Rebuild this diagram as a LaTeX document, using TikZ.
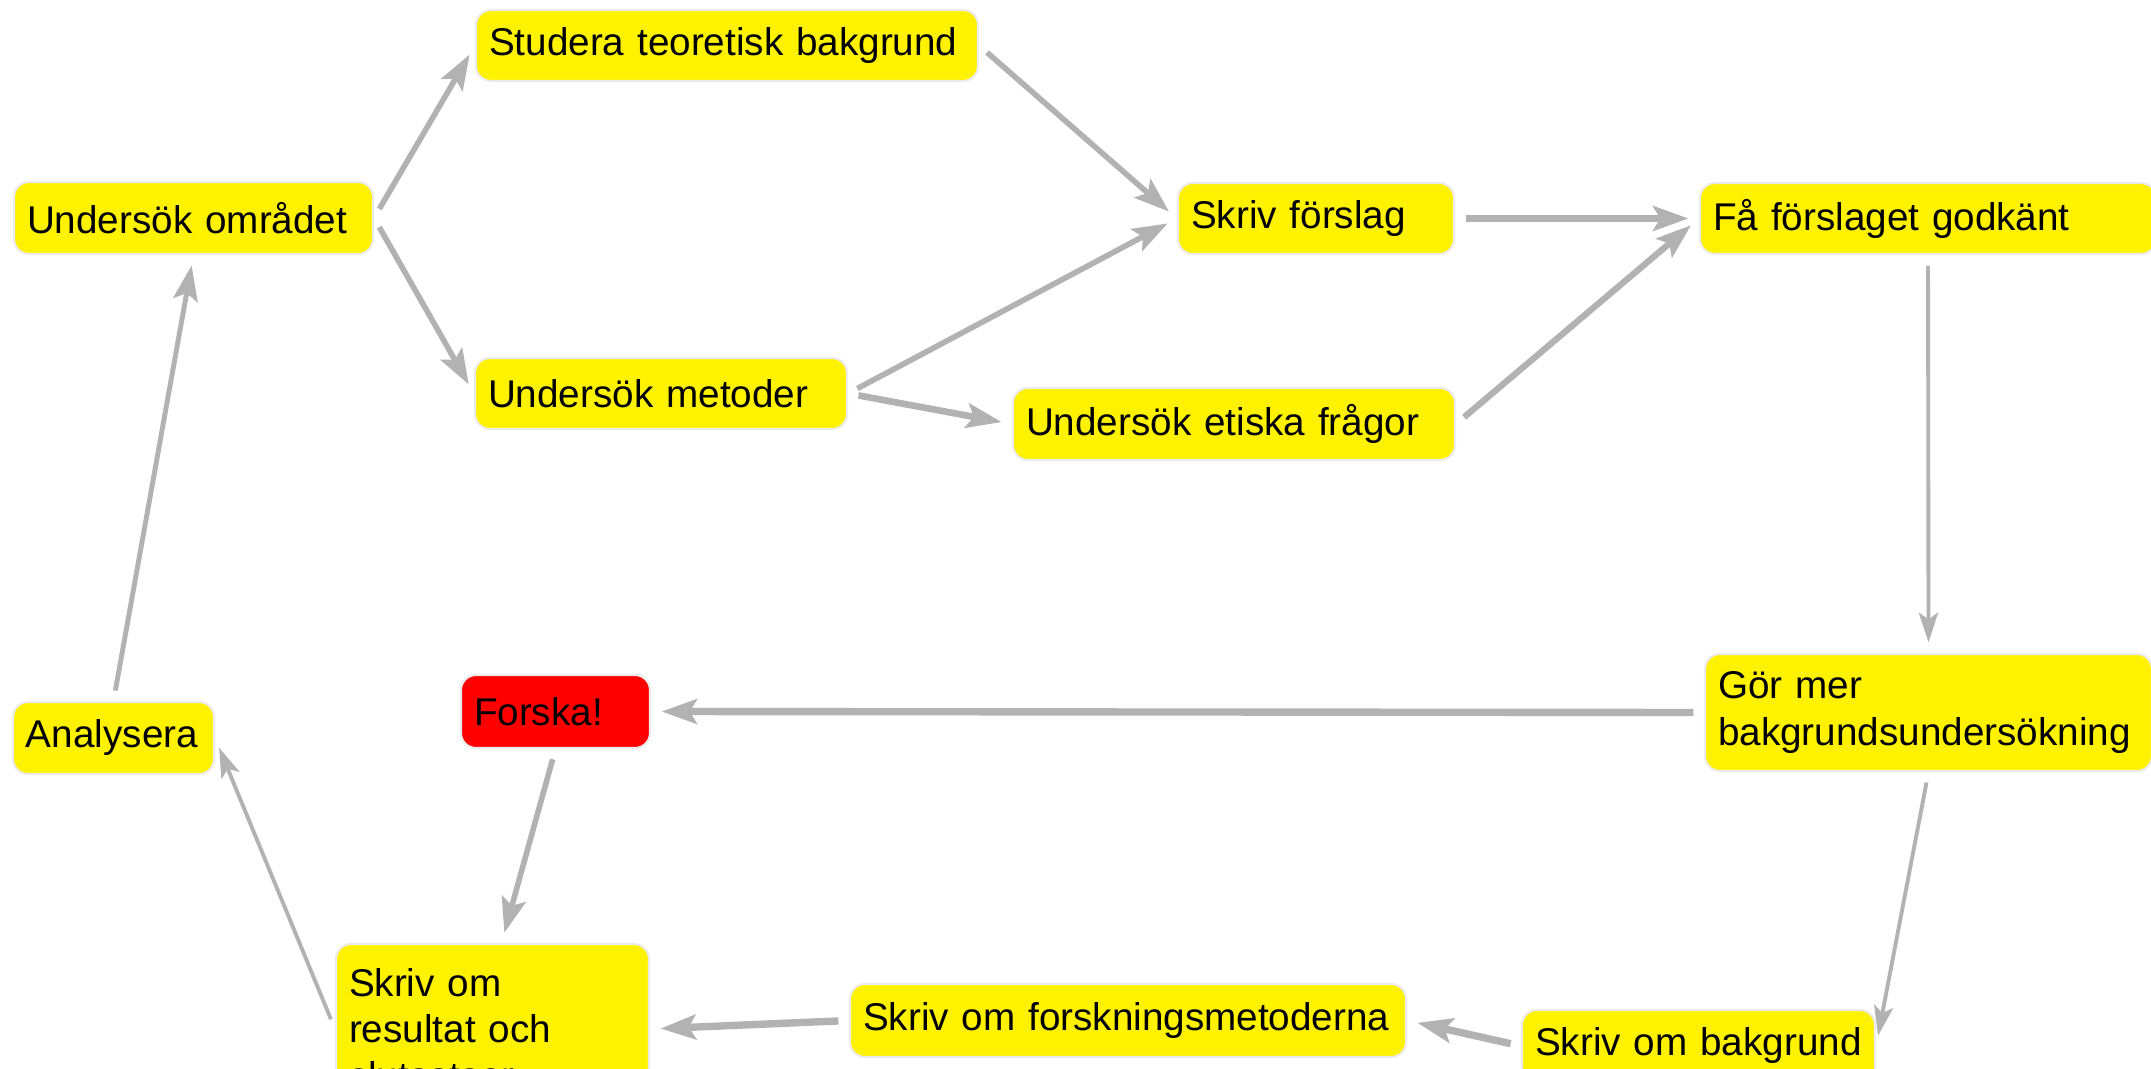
\documentclass[tikz,border=0pt]{standalone}
\usepackage{fontspec}
\setmainfont{Liberation Sans}
\usetikzlibrary{arrows.meta}
\definecolor{taskyellow}{RGB}{255,242,0}
\definecolor{taskred}{RGB}{255,0,0}
\definecolor{flowgray}{RGB}{178,178,178}
\tikzset{
  task/.style={fill=taskyellow, draw=black!8, line width=0.6pt, rounded corners=0.15cm,
    inner xsep=0.13cm, inner ysep=0pt, align=left},
  flow/.style={draw=flowgray, line width=1.6pt, -{Stealth[length=10pt,width=7pt,inset=2pt]},
    shorten >=3pt, shorten <=3pt},
  thinflow/.style={flow, line width=1.1pt, -{Stealth[length=8.5pt,width=5.5pt,inset=2pt]}},
}
\begin{document}
\begin{tikzpicture}
                    \useasboundingbox (0,0) rectangle (21.51,10.68);
                    \clip (0,0) rectangle (21.51,10.68);
                    {\fontsize{11}{13.3}\selectfont

                    % Drawing node Undersok omradet
                    \node [task, text width=3.33cm, minimum height=0.72cm] (uo) at (1.935,8.500) {Undersök området};%

                    % Drawing node Studera teoretisk bakgrund
                    \node [task, text width=4.76cm, minimum height=0.71cm] (stb) at (7.270,10.225) {Studera teoretisk bakgrund};%

                    % Drawing node Undersok metoder
                    \node [task, text width=3.46cm, minimum height=0.71cm] (um) at (6.610,6.745) {Undersök metoder};%

                    % Drawing node Skriv forslag
                    \node [task, text width=2.50cm, minimum height=0.71cm] (sf) at (13.160,8.495) {Skriv förslag};%

                    % Drawing node Undersok etiska fragor
                    \node [task, text width=4.16cm, minimum height=0.72cm] (uef) at (12.340,6.440) {Undersök etiska frågor};%

                    % Drawing node Fa forslaget godkant
                    \node [task, text width=4.30cm, minimum height=0.71cm] (fg) at (19.280,8.495) {Få förslaget godkänt};%

                    % Drawing node Gor mer bakgrundsundersokning
                    \node [task, text width=4.21cm, minimum height=1.17cm] (gm) at (19.285,3.555) {Gör mer\\bakgrundsundersökning};%

                    % Drawing node Forska
                    \node [task, fill=taskred, text width=1.63cm, minimum height=0.73cm] (fo) at (5.555,3.565) {Forska!};%

                    % Drawing node Analysera
                    \node [task, text width=1.75cm, minimum height=0.72cm] (an) at (1.135,3.300) {Analysera};%

                    % Drawing node Skriv om resultat och slutsatser
                    \node [task, text width=2.87cm, minimum height=1.70cm] (sr) at (4.925,0.390) {Skriv om\\resultat och\\slutsatser};%

                    % Drawing node Skriv om forskningsmetoderna
                    \node [task, text width=5.30cm, minimum height=0.73cm] (sfm) at (11.280,0.475) {Skriv om forskningsmetoderna};%

                    % Drawing node Skriv om bakgrund
                    \node [task, text width=3.27cm, minimum height=0.72cm] (sb) at (16.985,0.220) {Skriv om bakgrund};%

                    % Drawing arrows of the first half
                    \draw [flow] (uo.east) -- (stb.west);%
                    \draw [flow] (uo.east) -- (um.west);%
                    \draw [flow] (stb.east) -- (sf.west);%
                    \draw [flow] (um.east) -- (sf.west);%
                    \draw [flow, line width=1.9pt] (um.east) -- (uef.west);%
                    \draw [flow, line width=2.1pt] (sf.east) -- (fg.west);%
                    \draw [flow, line width=1.8pt] (uef.east) -- (fg.west);%
                    \draw [thinflow] (fg.south) -- (gm.north);%

                    % Drawing arrows of the second half
                    \draw [flow, line width=2.1pt] (gm.west) -- (fo.east);%
                    \draw [thinflow] (gm.south) -- (sb.east);%
                    \draw [flow, line width=2.1pt] (sb.west) -- (sfm.east);%
                    \draw [flow, line width=2.1pt] (sfm.west) -- (sr.east);%
                    \draw [flow] (fo.south) -- (sr.84);%
                    \draw [thinflow] (sr.west) -- (an.east);%
                    \draw [flow, line width=1.4pt] (an.north) -- (uo.south);%
                    }
\end{tikzpicture}
\end{document}
